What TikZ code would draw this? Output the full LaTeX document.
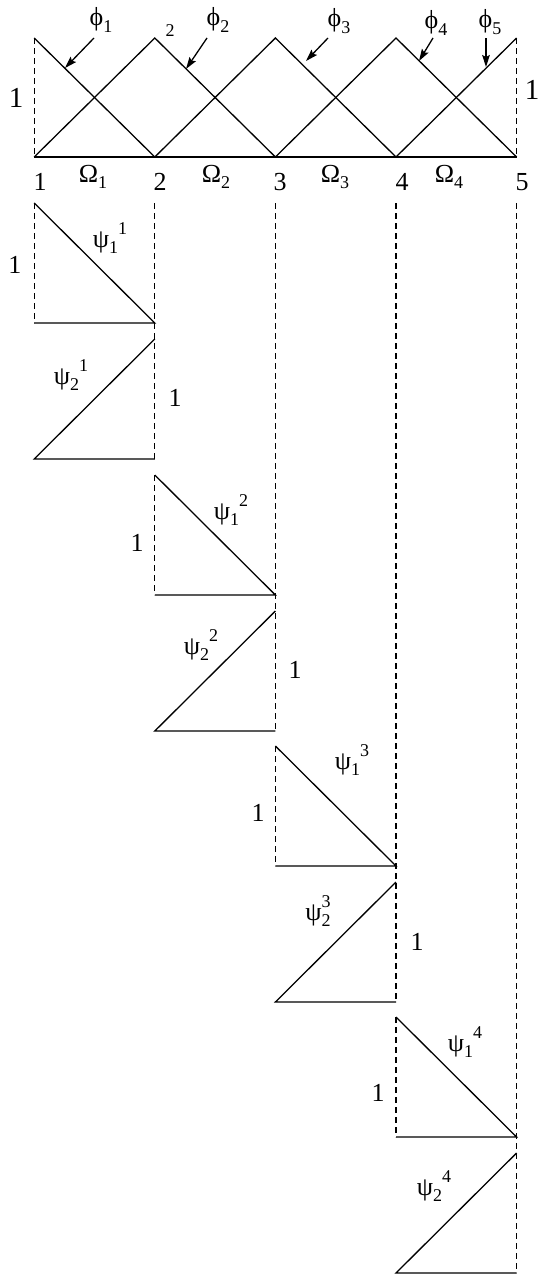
\documentclass[tikz,border=0pt]{standalone}
\usepackage{fontspec}
\setmainfont{Liberation Serif}
\usetikzlibrary{arrows.meta}
\newcommand{\sbs}[1]{\raisebox{-0.55ex}{\fontsize{9}{10}\selectfont #1}}
\newcommand{\sps}[1]{\raisebox{1.1ex}{\fontsize{9}{10}\selectfont #1}}

\begin{document}
\begin{tikzpicture}[
    x=0.5pt, y=-0.5pt,
    base/.style={line width=0.65pt},
    guide/.style={line width=0.65pt, dash pattern=on 3pt off 2pt},
    arr/.style={line width=0.65pt, -{Stealth[length=6pt, width=3.8pt, inset=1pt]}},
    lbl/.style={inner sep=0pt, font=\fontsize{13}{15}\selectfont},
    one/.style={inner sep=0pt, font=\fontsize{14.5}{16}\selectfont}
]
\useasboundingbox (0,0) rectangle (541,1274);
% mesh points and hat tops
\coordinate (n1) at (34.2,157);
\coordinate (n2) at (154.8,157);
\coordinate (n3) at (275.4,157);
\coordinate (n4) at (396,157);
\coordinate (n5) at (516.6,157);
\coordinate (p1) at (34.2,38);
\coordinate (p2) at (154.8,38);
\coordinate (p3) at (275.4,38);
\coordinate (p4) at (396,38);
\coordinate (p5) at (516.6,38);
% global basis functions
\draw[base] (n1) -- (n5);
\draw[base] (p1) -- (n2);
\draw[base] (n1) -- (p2) -- (n3);
\draw[base] (n2) -- (p3) -- (n4);
\draw[base] (n3) -- (p4) -- (n5);
\draw[base] (n4) -- (p5);
\draw[guide] (p1) -- (n1);
\draw[guide] (p5) -- (n5);
% labels and pointers
\node[lbl] (f1) at (101,20) {ϕ\sbs{1}};
\node[lbl] (f2) at (218,20) {ϕ\sbs{2}};
\node[lbl] (f3) at (339,21) {ϕ\sbs{3}};
\node[lbl] (f4) at (436,23) {ϕ\sbs{4}};
\node[lbl] (f5) at (490,22) {ϕ\sbs{5}};
\node[inner sep=0pt, font=\fontsize{9}{10}\selectfont] (top2) at (170,31) {2};
\coordinate (t1) at (94,38);   \coordinate (h1) at (65,68);
\coordinate (t2) at (207,38);  \coordinate (h2) at (186,69);
\coordinate (t3) at (328,38);  \coordinate (h3) at (306,61);
\coordinate (t4) at (433,38);  \coordinate (h4) at (419,61);
\coordinate (t5) at (486,38);  \coordinate (h5) at (486,67);
\draw[arr] (t1) -- (h1);
\draw[arr] (t2) -- (h2);
\draw[arr] (t3) -- (h3);
\draw[arr] (t4) -- (h4);
\draw[arr] (t5) -- (h5);
\node[one] (hl) at (16,98) {1};
\node[one] (hr) at (532,90) {1};
\node[lbl] (x1) at (40,182) {1};
\node[lbl] (x2) at (160,182) {2};
\node[lbl] (x3) at (280,182) {3};
\node[lbl] (x4) at (402,182) {4};
\node[lbl] (x5) at (522,182) {5};
\node[lbl] (o1) at (93,177) {Ω\sbs{1}};
\node[lbl] (o2) at (216,177) {Ω\sbs{2}};
\node[lbl] (o3) at (335,177) {Ω\sbs{3}};
\node[lbl] (o4) at (449,177) {Ω\sbs{4}};
% element shape functions
\draw[guide] (154.8,203) -- (154.8,459);
\draw[guide] (275.4,203) -- (275.4,731);
\draw[guide] (396,203) -- (396,1002);
\draw[guide] (516.6,203) -- (516.6,1273);
% element 1
\draw[base] (34.2,203) -- (154.8,323) -- (34.2,323);
\draw[guide] (34.2,203) -- (34.2,323);
\draw[base] (154.8,339) -- (34.2,459) -- (154.8,459);
\node[lbl] (s11) at (110,238) {ψ\sbs{1}\sps{1}};
\node[lbl] (s21) at (71,375) {ψ\sbs{2}\sps{1}};
\node[lbl] (u11) at (15,265) {1};
\node[lbl] (u21) at (175,398) {1};
% element 2
\draw[base] (154.8,475) -- (275.4,595) -- (154.8,595);
\draw[guide] (154.8,475) -- (154.8,595);
\draw[base] (275.4,611) -- (154.8,731) -- (275.4,731);
\node[lbl] (s12) at (231,510) {ψ\sbs{1}\sps{2}};
\node[lbl] (s22) at (201,645) {ψ\sbs{2}\sps{2}};
\node[lbl] (u12) at (137,543) {1};
\node[lbl] (u22) at (295,670) {1};
% element 3
\draw[base] (275.4,746) -- (396,866) -- (275.4,866);
\draw[guide] (275.4,746) -- (275.4,866);
\draw[base] (396,882) -- (275.4,1002) -- (396,1002);
\node[lbl] (s13) at (352,760) {ψ\sbs{1}\sps{3}};
\node[lbl] (s23) at (318,911) {ψ\sbs{2}\llap{\sps{3}}};
\node[lbl] (u13) at (258,813) {1};
\node[lbl] (u23) at (417,942) {1};
% element 4
\draw[base] (396,1017) -- (516.6,1137) -- (396,1137);
\draw[guide] (396,1017) -- (396,1137);
\draw[base] (516.6,1153) -- (396,1273) -- (516.6,1273);
\node[lbl] (s14) at (465,1042) {ψ\sbs{1}\sps{4}};
\node[lbl] (s24) at (434,1186) {ψ\sbs{2}\sps{4}};
\node[lbl] (u14) at (378,1093) {1};
\end{tikzpicture}
\end{document}
